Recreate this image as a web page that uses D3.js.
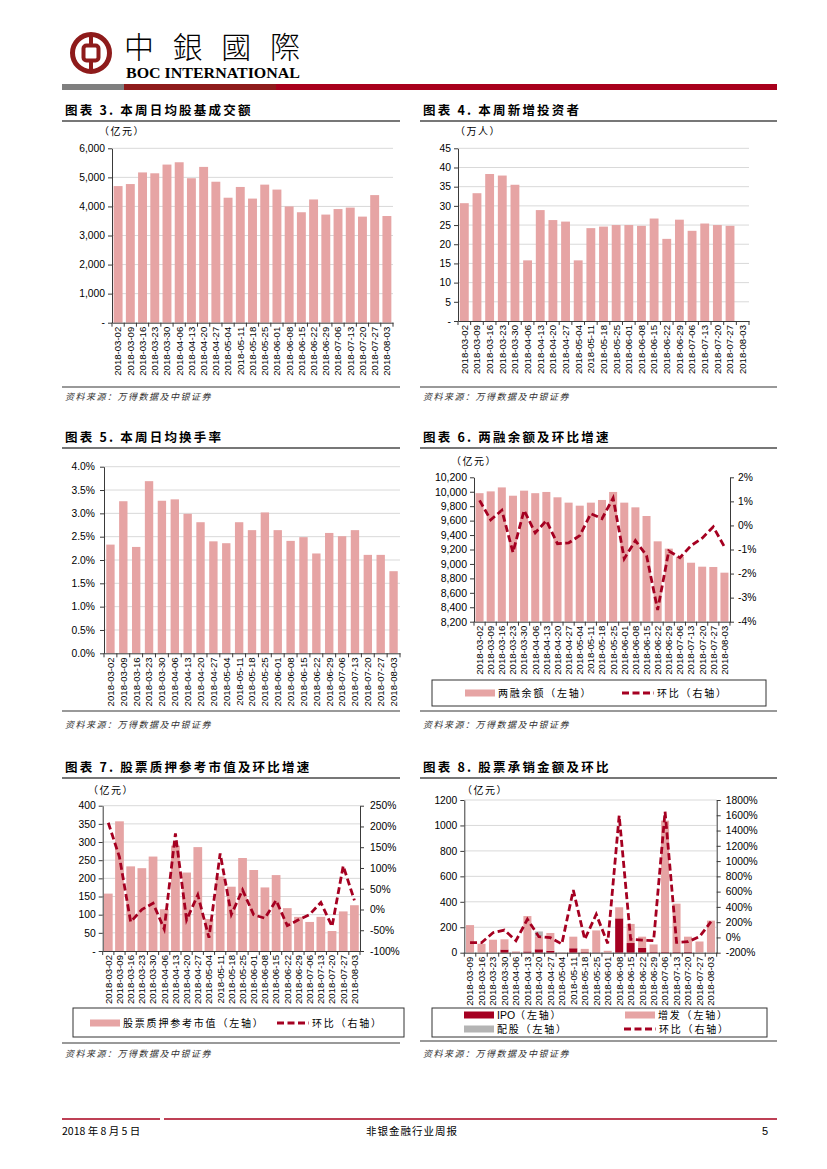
<!DOCTYPE html>
<meta charset="utf-8">
<style>
body { margin: 0; background: #fff; }
svg { display: block; }
text { font-family: "Liberation Sans", Arial, sans-serif; fill: #000; }
.cjk { font-family: "Noto Sans CJK SC", sans-serif; }
</style>
<body>
  <div id="page"></div>
</body>
<script src="https://cdn.jsdelivr.net/npm/d3@7/dist/d3.min.js"></script>
<script>

// ---- data ----
var weeks = ["2018-03-02","2018-03-09","2018-03-16","2018-03-23","2018-03-30","2018-04-06","2018-04-13","2018-04-20",
  "2018-04-27","2018-05-04","2018-05-11","2018-05-18","2018-05-25","2018-06-01","2018-06-08","2018-06-15",
  "2018-06-22","2018-06-29","2018-07-06","2018-07-13","2018-07-20","2018-07-27","2018-08-03"];
var weeksUw = ["2018-03-09","2018-03-16","2018-03-23","2018-03-30","2018-04-06","2018-04-13","2018-04-20",
  "2018-04-27","2018-05-04","2018-05-11","2018-05-18","2018-05-25","2018-06-01","2018-06-08","2018-06-15",
  "2018-06-22","2018-06-29","2018-07-06","2018-07-13","2018-07-20","2018-07-27","2018-08-03"];

// 图表3 本周日均股基成交额 (亿元)
var dailyTurnover = [4700,4770,5170,5140,5440,5520,4970,5360,4850,4300,4670,4270,4750,4580,4000,3800,4240,3720,3910,3960,3650,4390,3670];
// 图表4 本周新增投资者 (万人)
var newInvestors = [30.7,33.3,38.3,37.9,35.5,15.8,28.9,26.3,25.9,15.8,24.2,24.6,25.0,25.0,24.8,26.7,21.4,26.4,23.5,25.4,25.0,24.8,null];
// 图表5 本周日均换手率 (%)
var turnoverRate = [2.33,3.26,2.28,3.69,3.27,3.30,2.99,2.81,2.40,2.36,2.81,2.64,3.02,2.64,2.41,2.49,2.14,2.58,2.51,2.64,2.11,2.11,1.76];
// 图表6 两融余额 (亿元) 及环比 (%)
var marginBalance = [9980,10005,10060,9945,10015,9980,9997,9923,9849,9807,9849,9886,9997,9849,9784,9664,9313,9212,9100,9017,8962,8958,8879];
var marginChange = [1.04,0.23,0.63,-1.12,0.63,-0.31,0.20,-0.76,-0.73,-0.42,0.49,0.28,1.14,-1.38,-0.63,-1.25,-3.51,-1.06,-1.34,-0.84,-0.53,-0.06,-0.89];
// 图表7 股票质押参考市值 (亿元) 及环比 (%)
var pledgeValue = [158,357,233,228,260,115,290,216,286,88,205,177,256,223,175,209,118,94,80,94,55,109,126];
var pledgeChange = [209,126,-30,0,15,-47,183,-25,35,-68,135,-12,47,-13,-21,22,-39,-25,-12,17,-41,105,22];
// 图表8 股票承销金额 (亿元) 及环比 (%)
var ipoAmt = [0,0,0,25,3,10,27,15,0,35,5,3,0,270,76,37,5,5,5,8,0,0];
var seoAmt = [217,70,102,80,7,278,100,140,3,91,25,172,15,87,150,89,60,1033,380,118,88,252];
var rightsAmt = [0,0,0,0,0,0,40,0,0,0,0,0,0,0,0,0,0,0,0,0,0,0];
var underwriteChange = [-69,-69,62,97,-43,237,10,-3,-86,621,-25,302,-78,1595,-25,-34,-43,1647,-65,-56,10,206];

var pink = "#e6a4a4", darkRed = "#a50021", greyBar = "#b4b4b4", gridCol = "#d9d9d9", axisCol = "#3a3a3a";

var svg = d3.select("#page").append("svg").attr("width", 827).attr("height", 1169);
svg.append("rect").attr("width", 827).attr("height", 1169).attr("fill", "#fff");

// ---- header ----
var logo = svg.append("g").attr("transform", "translate(91,53)");
logo.append("circle").attr("r", 18.5).attr("fill", "none").attr("stroke", "#8e1b1b").attr("stroke-width", 5);
logo.append("rect").attr("x", -7.5).attr("y", -7.5).attr("width", 15).attr("height", 15).attr("rx", 3)
  .attr("fill", "none").attr("stroke", "#8e1b1b").attr("stroke-width", 4);
logo.append("rect").attr("x", -2).attr("y", -19).attr("width", 4).attr("height", 11.5).attr("fill", "#8e1b1b");
logo.append("rect").attr("x", -2).attr("y", 7.5).attr("width", 4).attr("height", 11.5).attr("fill", "#8e1b1b");

svg.append("text").attr("x", 124).attr("y", 58).text("中銀國際")
  .style("font-family", "'Noto Sans CJK TC', sans-serif").style("font-size", "30px").style("font-weight", 300)
  .attr("textLength", 176).attr("lengthAdjust", "spacing");
svg.append("text").attr("x", 126).attr("y", 78).text("BOC INTERNATIONAL")
  .style("font-family", "'Liberation Serif', serif").style("font-weight", "bold").style("font-size", "14px")
  .attr("textLength", 174).attr("lengthAdjust", "spacingAndGlyphs");
svg.append("rect").attr("x", 62).attr("y", 84).attr("width", 62).attr("height", 6).attr("fill", "#7f7f7f");
svg.append("rect").attr("x", 124).attr("y", 84).attr("width", 152).attr("height", 6).attr("fill", "#8e1b1b");
svg.append("rect").attr("x", 276).attr("y", 84).attr("width", 501).attr("height", 6).attr("fill", "#a8001c");

// ---- footer ----
svg.append("line").attr("x1", 62).attr("x2", 160).attr("y1", 1119).attr("y2", 1119).attr("stroke", "#a8001c").attr("stroke-width", 1.5);
svg.append("line").attr("x1", 164).attr("x2", 777).attr("y1", 1119).attr("y2", 1119).attr("stroke", "#a8001c").attr("stroke-width", 1.5);
svg.append("text").attr("class", "cjk").attr("x", 62).attr("y", 1131).attr("dy", "0.35em").style("font-size", "10.5px").text("2018 年 8 月 5 日");
svg.append("text").attr("class", "cjk").attr("x", 412).attr("y", 1131).attr("dy", "0.35em").attr("text-anchor", "middle")
  .style("font-size", "10.5px").style("letter-spacing", "1px").text("非银金融行业周报");
svg.append("text").attr("x", 768).attr("y", 1131).attr("dy", "0.35em").attr("text-anchor", "end").style("font-size", "11px").text("5");

// ---- panel frame: title, rules, source ----
function frame(x0, x1, titleY, title, ruleY, srcY) {
  svg.append("text").attr("class", "cjk").attr("x", x0 + 3).attr("y", titleY).attr("dy", "0.35em")
    .style("font-size", "12.5px").style("font-weight", "bold").style("letter-spacing", "2.2px").text(title);
  svg.append("line").attr("x1", x0).attr("x2", x1).attr("y1", titleY + 10).attr("y2", titleY + 10)
    .attr("stroke", "#777").attr("stroke-width", 2);
  svg.append("line").attr("x1", x0).attr("x2", x1).attr("y1", ruleY).attr("y2", ruleY)
    .attr("stroke", "#777").attr("stroke-width", 1.5);
  svg.append("text").attr("class", "cjk").attr("x", x0 + 3).attr("y", srcY).attr("dy", "0.35em")
    .style("font-size", "9px").style("font-style", "italic").style("letter-spacing", "1.5px").style("fill", "#333")
    .text("资料来源：万得数据及中银证券");
}

function unitLabel(x, y, txt) {
  svg.append("text").attr("class", "cjk").attr("x", x).attr("y", y).attr("dy", "0.35em")
    .style("font-size", "10px").style("letter-spacing", "1.5px").text(txt);
}

// ---- generic bar panel ----
function panel(o) {
  var g = svg.append("g");
  var x = d3.scaleBand().domain(o.cats).range([o.x0, o.x1]).paddingInner(o.pad).paddingOuter(o.pad / 2);
  var y = d3.scaleLinear().domain(o.yDom).range([o.yBot, o.yTop]);

  if (o.grid) {
    g.append("g").selectAll("line").data(o.yTicks.slice(1)).join("line")
      .attr("x1", o.x0).attr("x2", o.x1).attr("y1", d => y(d)).attr("y2", d => y(d))
      .attr("stroke", gridCol).attr("stroke-width", 1);
  }
  var barG = g.append("g");

  var ya = g.append("g").attr("transform", "translate(" + o.x0 + ",0)")
    .call(d3.axisLeft(y).tickValues(o.yTicks).tickFormat(o.fmt).tickSize(4).tickPadding(o.padL || 3).tickSizeOuter(0));
  ya.selectAll("path,line").attr("stroke", axisCol);
  ya.selectAll("text").style("font-size", (o.fs || 10.3) + "px").style("font-family", "'Liberation Sans', Arial, sans-serif");

  var xa = g.append("g").attr("transform", "translate(0," + o.yBot + ")")
    .call(d3.axisBottom(x).tickSize(0).tickSizeOuter(0).tickPadding(0));
  xa.select("path").attr("stroke", axisCol);
  xa.selectAll("text")
    .attr("text-anchor", "end").attr("transform", "translate(0,4) rotate(-90)")
    .attr("x", 0).attr("y", 0).attr("dy", "0.35em")
    .style("font-size", "9.6px").style("font-family", "'Liberation Sans', Arial, sans-serif");

  // ticks between categories
  var step = x.step();
  var bounds = o.cats.map(d => x(d) - x.paddingInner() * step / 2);
  bounds.push(o.x1);
  g.append("g").selectAll("line").data(bounds).join("line")
    .attr("x1", d => d).attr("x2", d => d).attr("y1", o.yBot).attr("y2", o.yBot + 4)
    .attr("stroke", axisCol);

  return { g: g, barG: barG, x: x, y: y };
}

function simpleBars(p, cats, vals, base) {
  p.barG.selectAll("rect")
    .data(cats.map((c, i) => ({ c: c, v: vals[i] })).filter(d => d.v != null))
    .join("rect")
    .attr("x", d => p.x(d.c)).attr("width", p.x.bandwidth())
    .attr("y", d => p.y(d.v)).attr("height", d => p.y(base) - p.y(d.v))
    .attr("fill", pink);
}

function rightAxis(p, xPos, yr, ticks, fmt, pad) {
  var a = p.g.append("g").attr("transform", "translate(" + xPos + ",0)")
    .call(d3.axisRight(yr).tickValues(ticks).tickFormat(fmt).tickSize(4).tickPadding(pad).tickSizeOuter(0));
  a.selectAll("path,line").attr("stroke", axisCol);
  a.selectAll("text").style("font-size", "10.3px").style("font-family", "'Liberation Sans', Arial, sans-serif");
}

function dashLine(p, cats, vals, yr) {
  var line = d3.line().x((d, i) => p.x(cats[i]) + p.x.bandwidth() / 2).y(d => yr(d));
  p.g.append("path").datum(vals).attr("d", line).attr("fill", "none")
    .attr("stroke", darkRed).attr("stroke-width", 2.8).attr("stroke-dasharray", "7,3.5");
}

function legendBox(x0, y0, x1, y1) {
  svg.append("rect").attr("x", x0).attr("y", y0).attr("width", x1 - x0).attr("height", y1 - y0)
    .attr("fill", "none").attr("stroke", "#333").attr("stroke-width", 1);
}
function legendSwatch(x, y, col, latin, txt) {
  svg.append("rect").attr("x", x).attr("y", y - 3.5).attr("width", 30).attr("height", 7).attr("fill", col);
  var t = svg.append("text").attr("class", "cjk").attr("x", x + 33).attr("y", y).attr("dy", "0.35em")
    .style("font-size", "10px");
  if (latin) t.append("tspan").style("font-family", "'Liberation Sans', Arial, sans-serif").style("font-size", "10.5px").text(latin);
  t.append("tspan").style("letter-spacing", "1.8px").text(txt);
}
function legendDash(x, y, txt) {
  svg.append("line").attr("x1", x).attr("x2", x + 32).attr("y1", y).attr("y2", y)
    .attr("stroke", darkRed).attr("stroke-width", 2.8).attr("stroke-dasharray", "7,3.5");
  svg.append("text").attr("class", "cjk").attr("x", x + 35).attr("y", y).attr("dy", "0.35em")
    .style("font-size", "10px").style("letter-spacing", "1.8px").text(txt);
}

// ---- 图表3 ----
frame(62, 400, 111, "图表 3. 本周日均股基成交额", 387, 397);
unitLabel(99, 131, "（亿元）");
var p3 = panel({ cats: weeks, x0: 112, x1: 393, yTop: 148.3, yBot: 322.7, yDom: [0, 6000], pad: 0.27,
  yTicks: d3.range(0, 6001, 1000), fmt: d => d === 0 ? "-" : d3.format(",")(d), grid: true });
simpleBars(p3, weeks, dailyTurnover, 0);

// ---- 图表4 ----
frame(420, 777, 111, "图表 4. 本周新增投资者", 387, 397);
unitLabel(455, 131, "（万人）");
var p4 = panel({ cats: weeks, x0: 458, x1: 749, yTop: 148.3, yBot: 321, yDom: [0, 45], pad: 0.3,
  yTicks: d3.range(0, 46, 5), fmt: d => d === 0 ? "-" : d, grid: true });
simpleBars(p4, weeks, newInvestors, 0);

// ---- 图表5 ----
frame(62, 400, 438, "图表 5. 本周日均换手率", 711, 725);
var p5 = panel({ cats: weeks, x0: 104, x1: 400, yTop: 466.7, yBot: 653.3, yDom: [0, 4], pad: 0.35,
  yTicks: d3.range(0, 4.01, 0.5), fmt: d => d.toFixed(1) + "%", grid: true, padL: 5 });
simpleBars(p5, weeks, turnoverRate, 0);

// ---- 图表6 ----
frame(420, 777, 438, "图表 6. 两融余额及环比增速", 711, 725);
unitLabel(451, 461, "（亿元）");
var p6 = panel({ cats: weeks, x0: 474, x1: 730, yTop: 477.3, yBot: 621.7, yDom: [8200, 10200], pad: 0.28,
  yTicks: d3.range(8200, 10201, 200), fmt: d3.format(","), grid: false, fs: 10.5 });
simpleBars(p6, weeks, marginBalance, 8200);
var y6r = d3.scaleLinear().domain([-4, 2]).range([621.7, 477.3]);
rightAxis(p6, 730, y6r, d3.range(-4, 3, 1), d => d + "%", 4);
dashLine(p6, weeks, marginChange, y6r);
legendBox(432, 680, 766, 706);
legendSwatch(465, 693, pink, null, "两融余额（左轴）");
legendDash(622, 693, "环比（右轴）");

// ---- 图表7 ----
frame(62, 400, 768, "图表 7. 股票质押参考市值及环比增速", 1043, 1054);
unitLabel(88, 790, "（亿元）");
var p7 = panel({ cats: weeks, x0: 102.7, x1: 360, yTop: 805.7, yBot: 951, yDom: [0, 400], pad: 0.22,
  yTicks: d3.range(0, 401, 50), fmt: d => d === 0 ? "-" : d, grid: true });
simpleBars(p7, weeks, pledgeValue, 0);
var y7r = d3.scaleLinear().domain([-100, 250]).range([951, 805.7]);
rightAxis(p7, 360, y7r, d3.range(-100, 251, 50), d => d + "%", 6);
dashLine(p7, weeks, pledgeChange, y7r);
legendBox(73, 1008, 404, 1037);
legendSwatch(90, 1023, pink, null, "股票质押参考市值（左轴）");
legendDash(277, 1023, "环比（右轴）");

// ---- 图表8 ----
frame(420, 777, 768, "图表 8. 股票承销金额及环比", 1041, 1054);
unitLabel(462, 790, "（亿元）");
var p8 = panel({ cats: weeksUw, x0: 464.3, x1: 716.7, yTop: 800, yBot: 952.7, yDom: [0, 1200], pad: 0.3,
  yTicks: d3.range(0, 1201, 200), fmt: d => d, grid: true });
var uwTable = weeksUw.map((w, i) => ({ week: w, ipo: ipoAmt[i], seo: seoAmt[i], rights: rightsAmt[i] }));
var uwStack = d3.stack().keys(["ipo", "seo", "rights"])(uwTable);
var uwColor = d3.scaleOrdinal().domain(["ipo", "seo", "rights"]).range([darkRed, pink, greyBar]);
p8.barG.selectAll("g").data(uwStack).join("g")
  .attr("fill", d => uwColor(d.key))
  .selectAll("rect").data(d => d).join("rect")
  .attr("x", d => p8.x(d.data.week)).attr("width", p8.x.bandwidth())
  .attr("y", d => p8.y(d[1])).attr("height", d => p8.y(d[0]) - p8.y(d[1]));
var y8r = d3.scaleLinear().domain([-200, 1800]).range([952.7, 800]);
rightAxis(p8, 716.7, y8r, d3.range(-200, 1801, 200), d => d + "%", 5);
dashLine(p8, weeksUw, underwriteChange, y8r);
legendBox(432, 1008, 767, 1037);
legendSwatch(464, 1015, darkRed, "IPO", "（左轴）");
legendSwatch(625, 1015, pink, null, "增发（左轴）");
legendSwatch(464, 1029, greyBar, null, "配股（左轴）");
legendDash(624, 1029, "环比（右轴）");

</script>
